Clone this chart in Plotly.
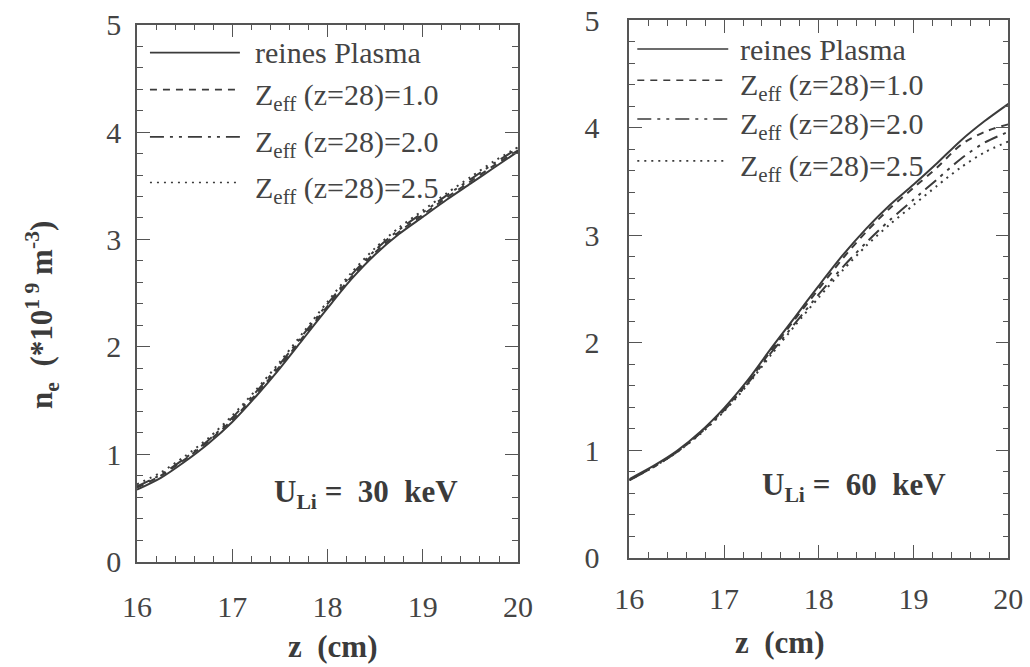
import plotly.graph_objects as go

# Position along the beam z (cm)
z_cm = [16.0, 16.25, 16.5, 16.75, 17.0, 17.25, 17.5, 17.75, 18.0,
        18.25, 18.5, 18.75, 19.0, 19.25, 19.5, 19.75, 20.0]

# Electron density n_e (10^19 m^-3), beam energy 30 keV
ne30_rein = [0.67, 0.78, 0.93, 1.10, 1.30, 1.54, 1.80, 2.08, 2.36,
             2.63, 2.86, 3.05, 3.21, 3.37, 3.52, 3.67, 3.82]
ne30_z10 = [0.69, 0.80, 0.95, 1.12, 1.32, 1.56, 1.82, 2.10, 2.38,
            2.65, 2.88, 3.07, 3.23, 3.39, 3.54, 3.69, 3.83]
ne30_z20 = [0.70, 0.81, 0.96, 1.13, 1.34, 1.58, 1.84, 2.12, 2.40,
            2.67, 2.90, 3.09, 3.25, 3.41, 3.56, 3.71, 3.85]
ne30_z25 = [0.72, 0.83, 0.98, 1.15, 1.36, 1.60, 1.86, 2.14, 2.42,
            2.69, 2.92, 3.11, 3.27, 3.43, 3.58, 3.73, 3.86]

# Electron density n_e (10^19 m^-3), beam energy 60 keV
ne60_rein = [0.73, 0.85, 0.99, 1.17, 1.39, 1.65, 1.95, 2.24, 2.53,
             2.81, 3.06, 3.28, 3.47, 3.67, 3.88, 4.06, 4.22]
ne60_z10 = [0.72, 0.84, 0.98, 1.16, 1.38, 1.63, 1.93, 2.22, 2.50,
            2.78, 3.03, 3.25, 3.44, 3.63, 3.84, 3.96, 4.03]
ne60_z20 = [0.72, 0.84, 0.98, 1.16, 1.37, 1.62, 1.91, 2.18, 2.45,
            2.70, 2.93, 3.14, 3.33, 3.52, 3.71, 3.86, 3.96]
ne60_z25 = [0.72, 0.84, 0.98, 1.15, 1.36, 1.61, 1.89, 2.16, 2.42,
            2.67, 2.90, 3.10, 3.28, 3.46, 3.63, 3.77, 3.87]

series_labels = ["reines Plasma",
                 "Z<sub>eff</sub> (z=28)=1.0",
                 "Z<sub>eff</sub> (z=28)=2.0",
                 "Z<sub>eff</sub> (z=28)=2.5"]
x_ticks = [16, 17, 18, 19, 20]
y_ticks = [0, 1, 2, 3, 4, 5]

INK = "#3b3b3b"
TXT = "#444444"
SERIF = "serif"
DASHES = ["solid", "7px,6px", "14px,6px,3px,6px,3px,6px", "2px,5px"]

fig = go.Figure()

panels = [
    ("x", "y", [ne30_rein, ne30_z10, ne30_z20, ne30_z25]),
    ("x2", "y2", [ne60_rein, ne60_z10, ne60_z20, ne60_z25]),
]
for xa, ya, curves in panels:
    for vals, dash in zip(curves, DASHES):
        fig.add_trace(go.Scatter(
            x=z_cm, y=vals, xaxis=xa, yaxis=ya, mode="lines",
            line=dict(color=INK, width=2, dash=dash, shape="spline", smoothing=0.8),
            showlegend=False, hoverinfo="skip"))

def axis_style(**extra):
    d = dict(
        showline=True, linecolor="#555555", linewidth=1.5, mirror="ticks",
        ticks="inside", ticklen=13, tickwidth=1.3, tickcolor="#555555",
        minor=dict(ticks="inside", ticklen=6, tickwidth=1.2, tickcolor="#555555", dtick=0.2),
        showgrid=False, zeroline=False, automargin=False,
        tickfont=dict(family=SERIF, size=30, color=TXT),
    )
    d.update(extra)
    return d

fig.update_layout(
    font=dict(family=SERIF, size=30, color=TXT),
    width=1030, height=667,
    margin=dict(l=0, r=0, t=0, b=0, autoexpand=False),
    paper_bgcolor="white", plot_bgcolor="white",
    xaxis=axis_style(domain=[0.133, 0.503], range=[16, 20], tickvals=x_ticks,
                     anchor="y", ticklabelstandoff=18),
    yaxis=axis_style(domain=[0.158, 0.963], range=[0, 5], tickvals=y_ticks,
                     anchor="x", ticklabelstandoff=8),
    xaxis2=axis_style(domain=[0.611, 0.979], range=[16, 20], tickvals=x_ticks,
                      anchor="y2", ticklabelstandoff=14),
    yaxis2=axis_style(domain=[0.164, 0.970], range=[0, 5], tickvals=y_ticks,
                      anchor="x2", ticklabelstandoff=22),
)

# Legend blocks drawn inside each panel
legend_rows = {
    "x": dict(x0=0.034, x1=0.27, xt=0.304, ys=[0.948, 0.879, 0.791, 0.706]),
    "x2": dict(x0=0.021, x1=0.261, xt=0.288, ys=[0.946, 0.888, 0.816, 0.738]),
}
for xa, spec in legend_rows.items():
    ya = "y" if xa == "x" else "y2"
    for label, dash, yy in zip(series_labels, DASHES, spec["ys"]):
        fig.add_shape(type="line", xref=f"{xa} domain", yref=f"{ya} domain",
                      x0=spec["x0"], x1=spec["x1"], y0=yy, y1=yy,
                      line=dict(color=INK, width=1.6, dash=dash))
        shift = 0 if label == "reines Plasma" else -7
        fig.add_annotation(xref=f"{xa} domain", yref=f"{ya} domain",
                           x=spec["xt"], y=yy, yshift=shift, text=label,
                           showarrow=False, xanchor="left", yanchor="middle",
                           font=dict(family=SERIF, size=30, color=TXT))

bold = dict(family=SERIF, size=31, color=INK)
fig.add_annotation(xref="x domain", yref="y domain", x=0.602, y=0.125,
                   xanchor="center", yanchor="middle",
                   text="<b>U<sub>Li</sub>&nbsp;=&nbsp; 30&nbsp; keV</b>",
                   showarrow=False, font=bold)
fig.add_annotation(xref="x2 domain", yref="y2 domain", x=0.594, y=0.132,
                   xanchor="center", yanchor="middle",
                   text="<b>U<sub>Li</sub>&nbsp;=&nbsp; 60&nbsp; keV</b>",
                   showarrow=False, font=bold)

# Axis titles
fig.add_annotation(xref="paper", yref="paper", x=333 / 1030, y=1 - 646 / 667,
                   xanchor="center", yanchor="middle",
                   text="<b>z&nbsp; (cm)</b>", showarrow=False, font=bold)
fig.add_annotation(xref="paper", yref="paper", x=780 / 1030, y=1 - 642 / 667,
                   xanchor="center", yanchor="middle",
                   text="<b>z&nbsp; (cm)</b>", showarrow=False, font=bold)
fig.add_annotation(xref="paper", yref="paper", x=42 / 1030, y=1 - 315 / 667,
                   xanchor="center", yanchor="middle",
                   text="<b>n<sub>e</sub>&nbsp; (*10<sup>1 9</sup> m<sup>-3</sup>)</b>",
                   showarrow=False, textangle=-90, font=bold)

fig.write_html("out.html")
